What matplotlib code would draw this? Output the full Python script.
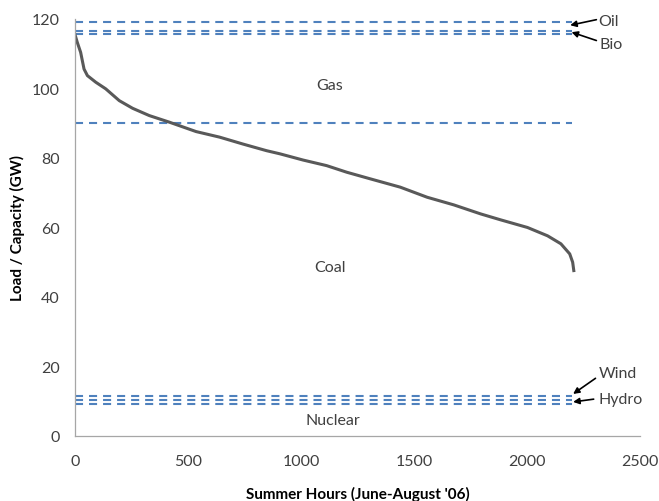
import matplotlib
matplotlib.use('Agg')
import matplotlib.pyplot as plt

plt.rcParams['font.family'] = ['Lato', 'DejaVu Sans']
plt.rcParams['lines.scale_dashes'] = False

# Lastkurve (sortiert)
hours = [0, 10, 25, 40, 55, 92, 136, 196, 255, 329, 418, 536, 640, 744, 848, 907,
         1010, 1114, 1203, 1307, 1440, 1559, 1677, 1796, 1884, 2003, 2092, 2151,
         2190, 2203, 2208]
load = [115.5, 113.3, 110.4, 105.6, 103.7, 101.8, 99.9, 96.5, 94.3, 92.2, 90.3,
        87.6, 86.0, 84.0, 82.1, 81.2, 79.4, 77.8, 75.9, 74.0, 71.6, 68.7, 66.5,
        63.9, 62.2, 60.0, 57.6, 55.3, 52.4, 50.0, 47.6]

# kumulierte Kapazitaeten
cap_levels = [9.3, 10.4, 11.5, 90.0, 115.8, 116.5, 119.2]
cap_end = 2200

# Bereichsbeschriftungen
area_labels = ['Gas', 'Coal', 'Nuclear']
area_x = [1128, 1128, 1140]
area_y = [101, 48.6, 4.6]

# Pfeil-Beschriftungen
arrow_labels = ['Oil', 'Bio', 'Wind', 'Hydro']
arrow_text_xy = [(2318, 119.4), (2322, 112.8), (2319, 18.1), (2319, 10.6)]
arrow_head = [(2192, 118.2), (2198, 116.2), (2205, 12.1), (2205, 9.8)]
arrow_tail = [(2308, 119.8), (2308, 113.8), (2304, 16.6), (2296, 10.6)]

FS = 11.5
txt_c = '#404040'
blue = '#4F81BD'

fig = plt.figure(figsize=(6.59, 5.02), dpi=100)
ax = fig.add_axes([0.1138, 0.1295, 0.857, 0.8307])

for lvl in cap_levels:
    ax.plot([0, cap_end], [lvl, lvl], color=blue, linewidth=1.5,
            linestyle=(0, (5.8, 4.3)))

ax.plot(hours, load, color='#595959', linewidth=2.2)

for lab, xx, yy in zip(area_labels, area_x, area_y):
    ax.text(xx, yy, lab, fontsize=FS, color=txt_c, ha='center', va='center')

for lab, txy, head, tail in zip(arrow_labels, arrow_text_xy, arrow_head, arrow_tail):
    ax.annotate('', xy=head, xytext=tail,
                arrowprops=dict(arrowstyle='-|>', color='black', lw=1.2,
                                mutation_scale=9, shrinkA=0, shrinkB=0),
                annotation_clip=False)
    ax.text(txy[0], txy[1], lab, fontsize=FS, color=txt_c, ha='left', va='center',
            clip_on=False)

ax.set_xlim(0, 2500)
ax.set_ylim(0, 120)
ax.set_xticks([0, 500, 1000, 1500, 2000, 2500])
ax.set_yticks([0, 20, 40, 60, 80, 100, 120])

for s in ['top', 'right']:
    ax.spines[s].set_visible(False)
for s in ['left', 'bottom']:
    ax.spines[s].set_color('#A6A6A6')
    ax.spines[s].set_linewidth(0.9)

ax.tick_params(axis='both', length=0, labelsize=FS, labelcolor=txt_c)
ax.tick_params(axis='x', pad=13)
ax.tick_params(axis='y', pad=11)

ax.set_xlabel("Summer Hours (June-August '06)", fontsize=11, fontweight='bold',
              color='black', labelpad=13)
ax.set_ylabel('Load / Capacity (GW)', fontsize=11, fontweight='bold',
              color='black', labelpad=5)

plt.savefig('out.png', dpi=100)
